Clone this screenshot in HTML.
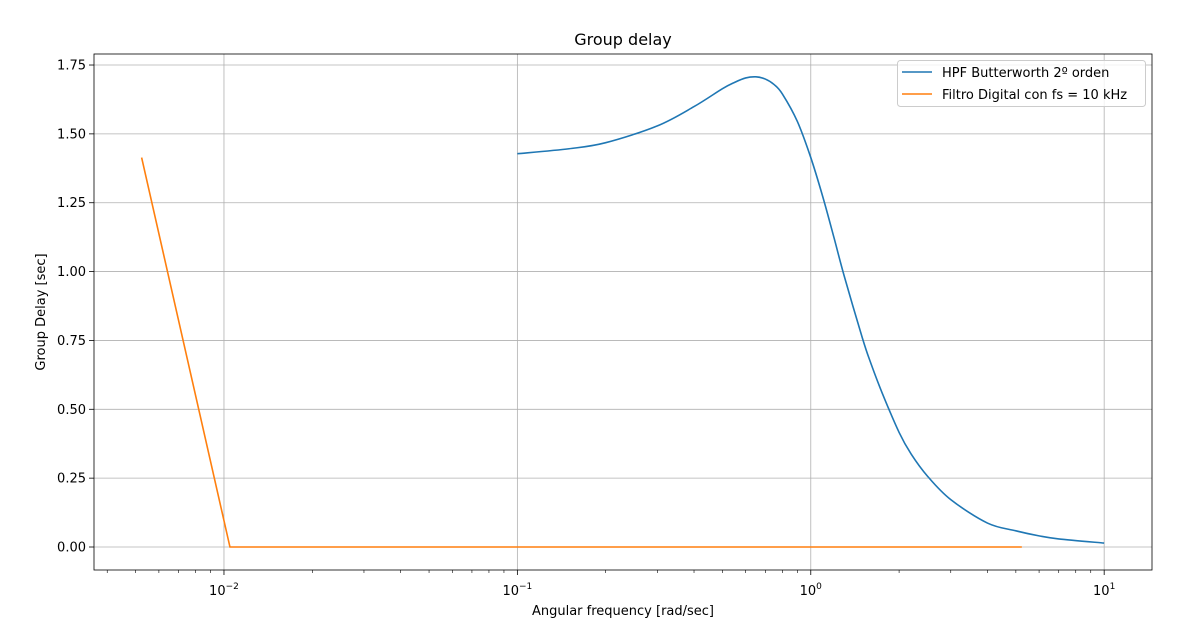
<!DOCTYPE html>
<html><head><meta charset="utf-8"><style>
body{margin:0;background:#fff;}
svg text{font-family:"DejaVu Sans","Liberation Sans",sans-serif;fill:#000;}
</style></head><body>
<svg id="chart" width="1189" height="631" xmlns="http://www.w3.org/2000/svg"></svg>
<script>
const hpfW=[0.1,0.15,0.2,0.3,0.4,0.5,0.55,0.6,0.65,0.7,0.75,0.8,0.9,1.0,1.1,1.2,1.3,1.5,1.6,1.75,2,2.2,2.5,3,4,5,6,7,10];
const hpfT=[1.428,1.446,1.468,1.529,1.599,1.664,1.687,1.703,1.707,1.699,1.679,1.645,1.545,1.414,1.27,1.123,0.984,0.758,0.669,0.56,0.416,0.337,0.257,0.172,0.087,0.0587,0.0404,0.0294,0.0143];
const digW=[0.00524,0.01048,5.24];
const digT=[1.414,0,0];
const yTicks=[0,0.25,0.5,0.75,1.0,1.25,1.5,1.75];
const yLabels=["0.00","0.25","0.50","0.75","1.00","1.25","1.50","1.75"];
const xDecades=[-2,-1,0,1];

const L=94,R=1152,T=54,B=570;
const xmin=-2.443,xmax=1.163,ymin=-0.0835,ymax=1.79;
const X=w=>L+(Math.log10(w)-xmin)/(xmax-xmin)*(R-L);
const Y=v=>B-(v-ymin)/(ymax-ymin)*(B-T);
const svg=document.getElementById('chart');
const NS='http://www.w3.org/2000/svg';
function mk(t,a,txt){const e=document.createElementNS(NS,t);for(const k in a)e.setAttribute(k,a[k]);if(txt!==undefined)e.textContent=txt;svg.appendChild(e);return e;}

xDecades.forEach(d=>{const x=X(Math.pow(10,d));
 const g=mk('line',{x1:x,x2:x,y1:T,y2:B,stroke:'#b0b0b0','stroke-width':0.8});
 
 
 const t=mk('line',{x1:x,x2:x,y1:B,y2:B+5,stroke:'#000','stroke-width':0.8});
 
 
 const tx=mk('text',{x:x,y:B+25,'text-anchor':'middle','font-size':13});
 tx.innerHTML='10<tspan dy="-6" font-size="9">'+(d<0?'\u2212'+Math.abs(d):d)+'</tspan>';
 
 
});
for(let d=-3;d<=1;d++){for(let m=2;m<=9;m++){const w=m*Math.pow(10,d);const lx=Math.log10(w);
 if(lx<xmin||lx>xmax)continue;const x=X(w);
 const t=mk('line',{x1:x,x2:x,y1:B,y2:B+3,stroke:'#000','stroke-width':0.6});
 
 }}
yTicks.forEach((v,i)=>{const y=Y(v);
 const g=mk('line',{x1:L,x2:R,y1:y,y2:y,stroke:'#b0b0b0','stroke-width':0.8});
 
 
 const t=mk('line',{x1:L-5,x2:L,y1:y,y2:y,stroke:'#000','stroke-width':0.8});
 
 
 const tx=mk('text',{x:L-8,y:y+4.5,'text-anchor':'end','font-size':13},yLabels[i]);
 
 
});
// smooth path (Catmull-Rom)
function smooth(pts){let d='M'+pts[0][0]+','+pts[0][1];
 for(let i=0;i<pts.length-1;i++){const p0=pts[Math.max(i-1,0)],p1=pts[i],p2=pts[i+1],p3=pts[Math.min(i+2,pts.length-1)];
  const c1=[p1[0]+(p2[0]-p0[0])/6,p1[1]+(p2[1]-p0[1])/6],c2=[p2[0]-(p3[0]-p1[0])/6,p2[1]-(p3[1]-p1[1])/6];
  d+=' C'+c1[0]+','+c1[1]+' '+c2[0]+','+c2[1]+' '+p2[0]+','+p2[1];}
 return d;}
const p1=mk('path',{d:smooth(hpfW.map((w,i)=>[X(w),Y(hpfT[i])])),fill:'none',stroke:'#1f77b4','stroke-width':1.6});


const p2=mk('polyline',{points:digW.map((w,i)=>X(w)+','+Y(digT[i])).join(' '),fill:'none',stroke:'#ff7f0e','stroke-width':1.6});


const fr=mk('rect',{x:L,y:T,width:R-L,height:B-T,fill:'none',stroke:'#000','stroke-width':0.8});


const tt=mk('text',{x:(L+R)/2,y:45,'text-anchor':'middle','font-size':16},'Group delay');


const xt=mk('text',{x:(L+R)/2,y:615,'text-anchor':'middle','font-size':13},'Angular frequency [rad/sec]');


const yt=mk('text',{x:45,y:(T+B)/2,'text-anchor':'middle','font-size':13,transform:'rotate(-90 45 '+((T+B)/2)+')'},'Group Delay [sec]');


const lb=mk('rect',{x:897.5,y:60.5,width:248,height:46,rx:3,fill:'#fff','fill-opacity':0.8,stroke:'#ccc','stroke-width':1});


[['HPF Butterworth 2º orden','#1f77b4',72],['Filtro Digital con fs = 10 kHz','#ff7f0e',94]].forEach(([s,c,y])=>{
 const l=mk('line',{x1:902,x2:932,y1:y,y2:y,stroke:c,'stroke-width':1.6});
 
 
 const t=mk('text',{x:942,y:y+5,'font-size':13},s);
 
 
});
</script>
</body></html>
